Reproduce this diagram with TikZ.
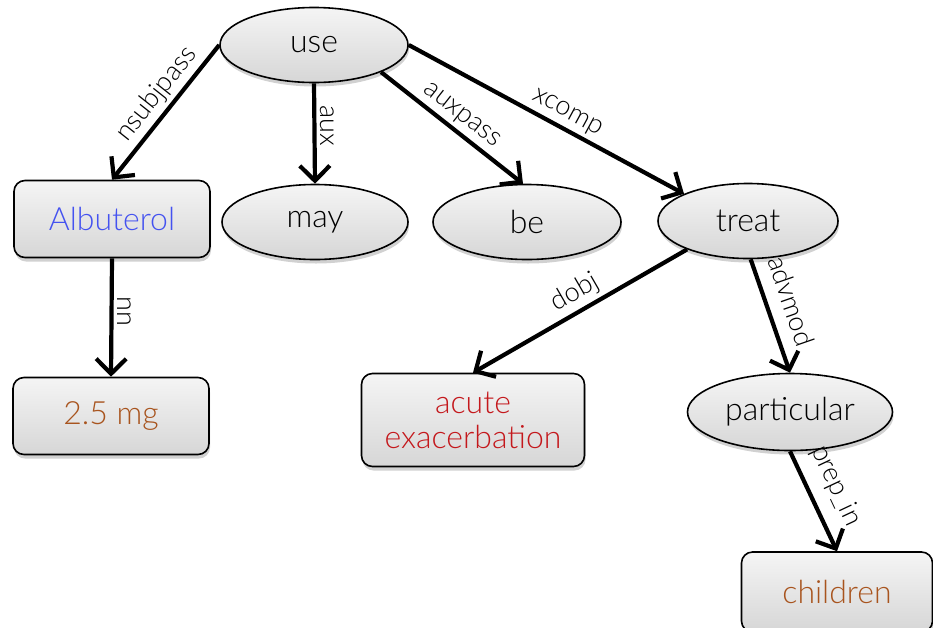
\documentclass[tikz,border=0pt]{standalone}
\usepackage{fontspec}
\setmainfont{Lato Light}
\usetikzlibrary{shapes.geometric,arrows.meta,shadows}
\definecolor{tokblue}{RGB}{68,82,240}
\definecolor{tokbrown}{RGB}{168,84,30}
\definecolor{tokred}{RGB}{196,24,28}
\begin{document}
\begin{tikzpicture}[x=1pt,y=1pt,
  basenode/.style={draw=black,line width=1.6pt,top color=gray!8,bottom color=gray!32,
    drop shadow={shadow xshift=1pt,shadow yshift=-4pt,opacity=0.18,fill=black},
    inner sep=0pt,font=\fontsize{32}{36}\selectfont,align=center},
  word/.style={basenode,ellipse,minimum width=188pt,minimum height=75pt},
  entity/.style={basenode,rectangle,rounded corners=11pt,minimum width=196pt,minimum height=77pt},
  dep/.style={line width=4.2pt,-{Straight Barb[length=15pt,width=30pt,line width=4.2pt]}},
  rel/.style={font=\fontsize{27}{29}\selectfont,sloped,above,inner sep=4pt},
  vrel/.style={font=\fontsize{27}{29}\selectfont,rotate=-90,anchor=south,inner sep=4pt}
]
\useasboundingbox (0,0) rectangle (933,-627);

% words of the sentence
\node[word] (use) at (314,-45) {use};
\node[word,minimum width=186pt] (may) at (315,-222) {may};
\node[word] (be) at (527,-222) {be};
\node[word,minimum width=180pt] (treat) at (748,-221) {treat};
\node[word,minimum width=205pt,minimum height=77pt] (particular) at (790,-412) {particular};

% entity mentions
\node[entity,text=tokblue] (alb) at (112,-219) {Albuterol};
\node[entity,text=tokbrown] (dose) at (111,-416) {2.5 mg};
\node[entity,text=tokred,minimum width=223pt,minimum height=93pt] (acute) at (473,-420) {acute\\[-1pt]exacerbation};
\node[entity,text=tokbrown,minimum width=191pt,minimum height=80pt] (children) at (837,-592) {children};

% dependency edges
\draw[dep] (use.west) -- node[rel,pos=0.45] {nsubjpass} (alb.north);
\draw[dep] (use.south) -- node[vrel,pos=0.42] {aux} (may.north);
\draw[dep] (use.-22.5) -- node[rel,pos=0.5] {auxpass} (be.96);
\draw[dep] (use.east) -- node[rel,pos=0.55] {xcomp} (treat.157);
\draw[dep] (treat.205) -- node[rel,pos=0.48] {dobj} (acute.north);
\draw[dep] (treat.-86) -- node[rel,pos=0.44,above=9pt] {advmod} (particular.north);
\draw[dep] (particular.south) -- node[rel,pos=0.46,above=9pt] {prep\_in} (children.north);
\draw[dep] (alb.south) -- node[vrel,pos=0.45] {nn} (dose.north);
\end{tikzpicture}
\end{document}
